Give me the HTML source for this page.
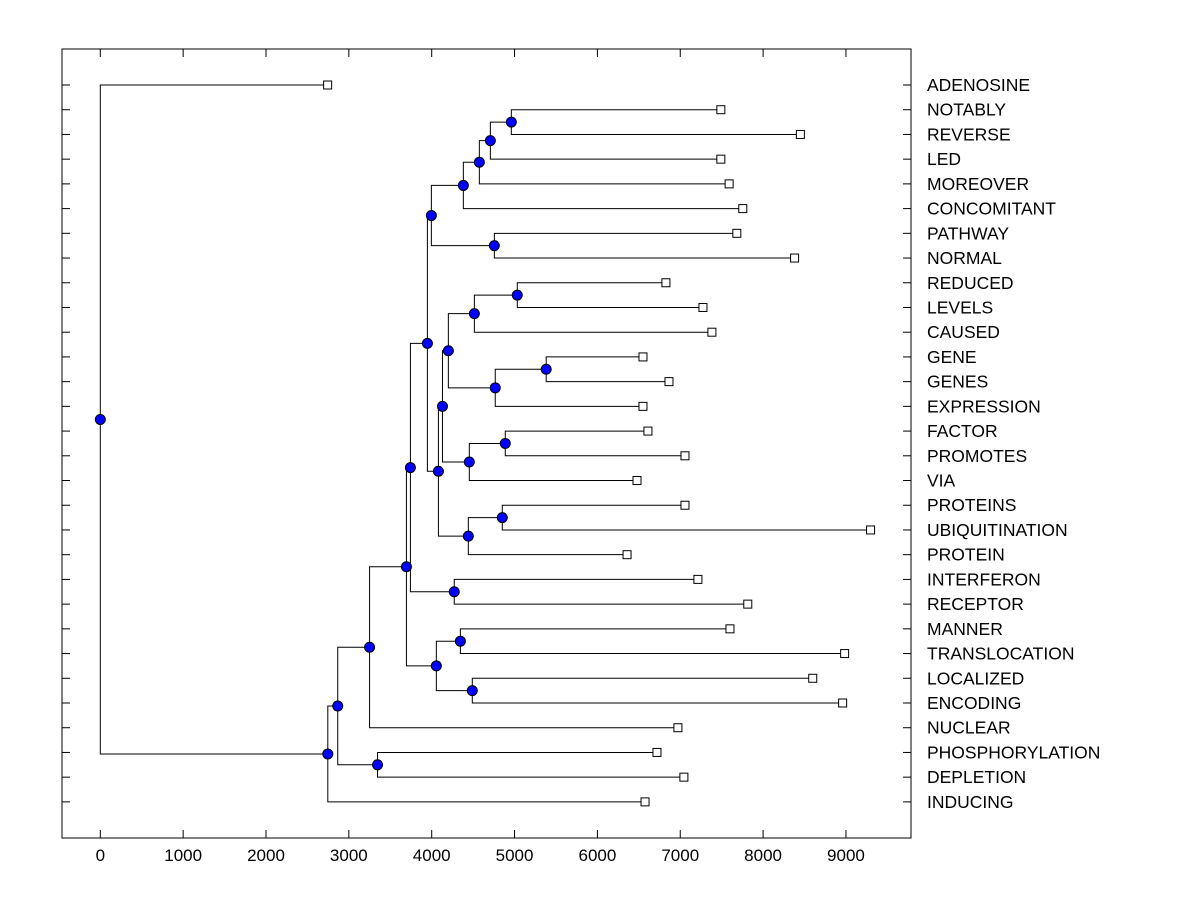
<!DOCTYPE html>
<html><head><meta charset="utf-8"><style>
body{margin:0;background:#fff;}
svg{display:block;}
text{font-family:"Liberation Sans",Arial,sans-serif;fill:#000;}
</style></head><body>
<svg id="chart" width="1200" height="900" xmlns="http://www.w3.org/2000/svg"></svg>
<script>
const leafLabels=["ADENOSINE","NOTABLY","REVERSE","LED","MOREOVER","CONCOMITANT","PATHWAY","NORMAL","REDUCED","LEVELS","CAUSED","GENE","GENES","EXPRESSION","FACTOR","PROMOTES","VIA","PROTEINS","UBIQUITINATION","PROTEIN","INTERFERON","RECEPTOR","MANNER","TRANSLOCATION","LOCALIZED","ENCODING","NUCLEAR","PHOSPHORYLATION","DEPLETION","INDUCING"];
const leafValues=[2744,7490,8450,7490,7590,7755,7683,8380,6827,7274,7382,6550,6864,6550,6610,7057,6478,7057,9297,6358,7213,7815,7600,8984,8599,8960,6972,6719,7044,6575];
// internal nodes: height, left child, right child ("L#" leaf, "N#" node)
const nodeHeights=[4961,4708,4575,4382,4756,3996,5033,4515,5382,4767,4201,4888,4454,4852,4442,4130,4081,3948,4272,3743,4346,4490,4056,3695,3250,3346,2866,2746,0];
const nodeLeft =["L1","N0","N1","N2","L6","N3","L8","N6","L11","N8","N7","L14","N11","L17","N13","N10","N15","N5","L20","N17","L22","L24","N20","N19","N23","L27","N24","N26","L0"];
const nodeRight=["L2","L3","L4","L5","L7","N4","L9","L10","L12","L13","N9","L15","L16","L18","L19","N12","N14","N16","L21","N18","L23","L25","N21","N22","L26","L28","N25","L29","N27"];
const xTicks=[0,1000,2000,3000,4000,5000,6000,7000,8000,9000];

const svg=document.getElementById('chart');
const NS='http://www.w3.org/2000/svg';
const L=62,R=911,T=49,B=838;
const xs=v=>100.3+v*0.08285;
const rowY=i=>85+i*24.72;
function mk(tag,attrs){const e=document.createElementNS(NS,tag);for(const k in attrs)e.setAttribute(k,attrs[k]);svg.appendChild(e);return e;}

const frame=mk('rect',{x:L,y:T,width:R-L,height:B-T,fill:'none',stroke:'#000','stroke-width':1});



xTicks.forEach(t=>{
  const x=xs(t);
  const a=mk('line',{x1:x,y1:B,x2:x,y2:B-8,stroke:'#000'});
  
  
  const b=mk('line',{x1:x,y1:T,x2:x,y2:T+8,stroke:'#000'});
  
  
  const tx=mk('text',{x:x,y:B+23,'text-anchor':'middle','font-size':'17px'});
  tx.textContent=t;
  
  
});

leafLabels.forEach((lab,i)=>{
  const y=rowY(i);
  const a=mk('line',{x1:L,y1:y,x2:L+8,y2:y,stroke:'#000'});
  
  
  const b=mk('line',{x1:R,y1:y,x2:R-8,y2:y,stroke:'#000'});
  
  
  const t=mk('text',{x:927,y:y+6,'font-size':'17.5px'});
  t.textContent=lab;
  
  
});

const nodeY=[];
function pos(ref){
  const i=+ref.slice(1);
  if(ref[0]==='L') return {x:xs(leafValues[i]),y:rowY(i)};
  return {x:xs(nodeHeights[i]),y:nodeY[i]};
}
for(let i=0;i<nodeHeights.length;i++){
  const a=pos(nodeLeft[i]),b=pos(nodeRight[i]);
  nodeY[i]=(a.y+b.y)/2;
}
for(let i=0;i<nodeHeights.length;i++){
  const x=xs(nodeHeights[i]);
  const a=pos(nodeLeft[i]),b=pos(nodeRight[i]);
  const p=mk('path',{d:`M${a.x},${a.y}H${x}V${b.y}H${b.x}`,fill:'none',stroke:'#000','stroke-width':1});
  
  
}
leafValues.forEach((v,i)=>{
  const s=mk('rect',{x:xs(v)-4,y:rowY(i)-4,width:8,height:8,fill:'#fff',stroke:'#000'});
  
  
});
nodeHeights.forEach((h,i)=>{
  const c=mk('circle',{cx:xs(h),cy:nodeY[i],r:5,fill:'#0000ff',stroke:'#000'});
  
  
});
</script>
</body></html>
